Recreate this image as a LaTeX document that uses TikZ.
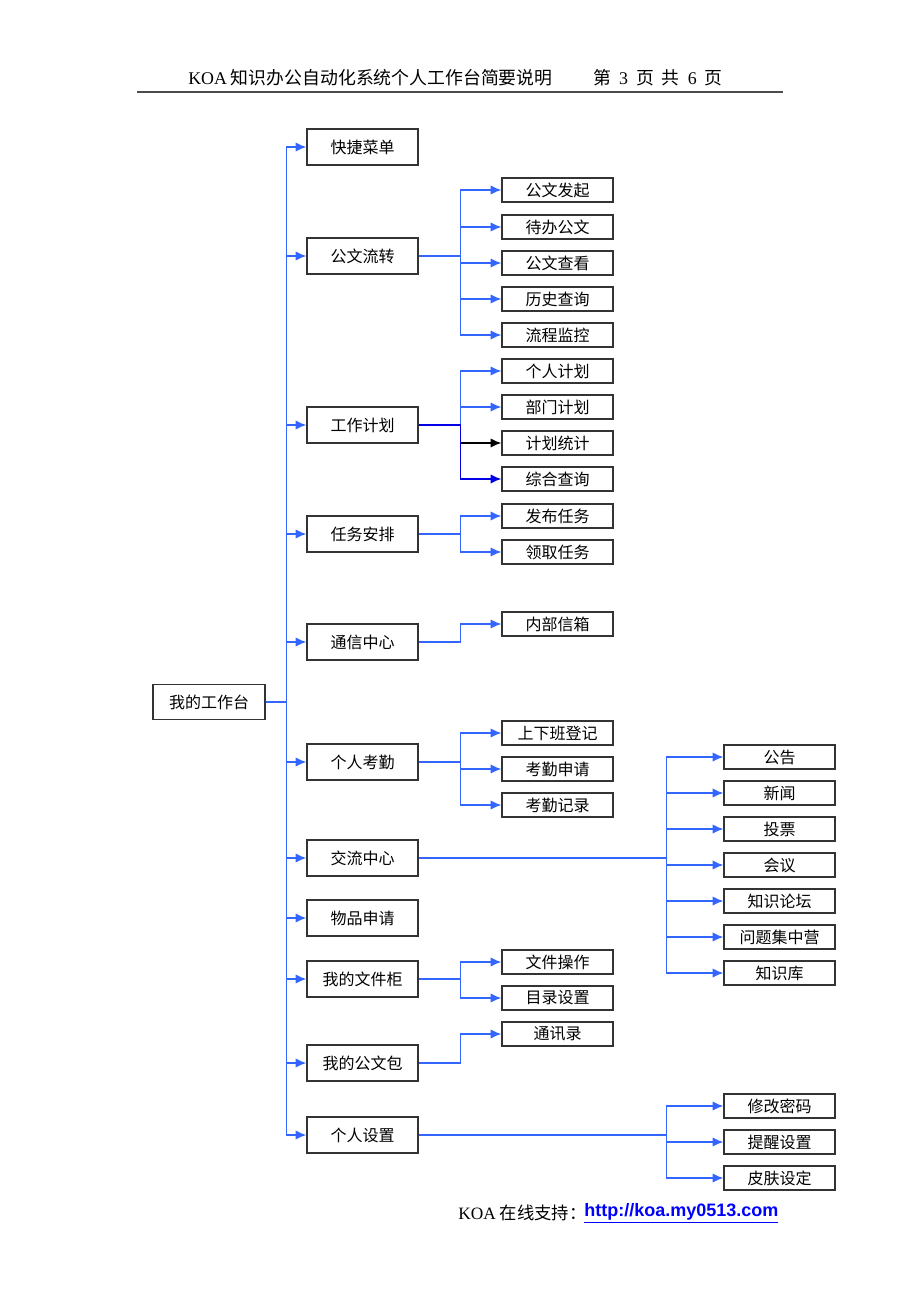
\documentclass[tikz,border=0pt]{standalone}
\usepackage{fontspec}
\setmainfont{Liberation Serif}
\newfontfamily\cjk{Noto Sans CJK SC}
\newfontfamily\linkfont{Liberation Sans}
\usepackage{tikz}
\usetikzlibrary{arrows.meta}
\definecolor{linkblue}{RGB}{51,102,255}
\definecolor{deepblue}{RGB}{0,0,230}

\begin{document}
\begin{tikzpicture}[x=0.75pt, y=-0.75pt,
	mainbox/.style={font=\cjk\fontsize{12}{14}\selectfont, draw=black!80, line width=0.9pt, minimum width=83.25pt, minimum height=27pt, inner sep=0, align=center},
	subbox/.style={mainbox, minimum height=18pt},
	link/.style={-{Latex[length=8pt,width=7pt]}, draw=linkblue, line width=1.3pt}
]
\useasboundingbox (0,0) rectangle (920,1302);

% header
\node[font=\cjk\fontsize{13.4}{16}\selectfont, anchor=west, inner sep=0] (title) at (188,78) {{\rmfamily KOA} 知识办公自动化系统个人工作台简要说明};
\node[font=\cjk\fontsize{13.4}{16}\selectfont, anchor=west, inner sep=0] (page) at (593,78) {第\ \ {\rmfamily 3}\ \ 页\ \ 共\ \ {\rmfamily 6}\ \ 页};
\draw[line width=1.5pt, black!70] (137,92) -- (783,92);

% root and first level
\node[mainbox, minimum width=84pt, minimum height=26.25pt] (root) at (209,702) {我的工作台};

\node[mainbox] (ksm)  at (362.5,147)  {快捷菜单};
\node[mainbox] (gwlz) at (362.5,256)  {公文流转};
\node[mainbox] (gzjh) at (362.5,425)  {工作计划};
\node[mainbox] (rwap) at (362.5,534)  {任务安排};
\node[mainbox] (txzx) at (362.5,642)  {通信中心};
\node[mainbox] (grkq) at (362.5,762)  {个人考勤};
\node[mainbox] (jlzx) at (362.5,858)  {交流中心};
\node[mainbox] (wpsq) at (362.5,918)  {物品申请};
\node[mainbox] (wjg)  at (362.5,979)  {我的文件柜};
\node[mainbox] (gwb)  at (362.5,1063) {我的公文包};
\node[mainbox] (grsz) at (362.5,1135) {个人设置};

\draw[link] (root.east) -- ++(21,0) |- (ksm.west);
\draw[link] (root.east) -- ++(21,0) |- (gwlz.west);
\draw[link] (root.east) -- ++(21,0) |- (gzjh.west);
\draw[link] (root.east) -- ++(21,0) |- (rwap.west);
\draw[link] (root.east) -- ++(21,0) |- (txzx.west);
\draw[link] (root.east) -- ++(21,0) |- (grkq.west);
\draw[link] (root.east) -- ++(21,0) |- (jlzx.west);
\draw[link] (root.east) -- ++(21,0) |- (wpsq.west);
\draw[link] (root.east) -- ++(21,0) |- (wjg.west);
\draw[link] (root.east) -- ++(21,0) |- (gwb.west);
\draw[link] (root.east) -- ++(21,0) |- (grsz.west);

% second level
\node[subbox] (gwlz1) at (557.5,190) {公文发起};
\node[subbox] (gwlz2) at (557.5,227) {待办公文};
\node[subbox] (gwlz3) at (557.5,263) {公文查看};
\node[subbox] (gwlz4) at (557.5,299) {历史查询};
\node[subbox] (gwlz5) at (557.5,335) {流程监控};

\node[subbox] (gzjh1) at (557.5,371) {个人计划};
\node[subbox] (gzjh2) at (557.5,407) {部门计划};
\node[subbox] (gzjh3) at (557.5,443) {计划统计};
\node[subbox] (gzjh4) at (557.5,479) {综合查询};

\node[subbox] (rwap1) at (557.5,516) {发布任务};
\node[subbox] (rwap2) at (557.5,552) {领取任务};

\node[subbox] (txzx1) at (557.5,624) {内部信箱};

\node[subbox] (grkq1) at (557.5,733) {上下班登记};
\node[subbox] (grkq2) at (557.5,769) {考勤申请};
\node[subbox] (grkq3) at (557.5,805) {考勤记录};

\node[subbox] (wjg1) at (557.5,962) {文件操作};
\node[subbox] (wjg2) at (557.5,998) {目录设置};

\node[subbox] (gwb1) at (557.5,1034) {通讯录};

\draw[link] (gwlz.east) -- ++(42,0) |- (gwlz1.west);
\draw[link] (gwlz.east) -- ++(42,0) |- (gwlz2.west);
\draw[link] (gwlz.east) -- ++(42,0) |- (gwlz3.west);
\draw[link] (gwlz.east) -- ++(42,0) |- (gwlz4.west);
\draw[link] (gwlz.east) -- ++(42,0) |- (gwlz5.west);

\draw[link] (gzjh.east) -- ++(42,0) |- (gzjh1.west);
\draw[link] (gzjh.east) -- ++(42,0) |- (gzjh2.west);
\draw[link, draw=black] (gzjh.east) -- ++(42,0) |- (gzjh3.west);
\draw[link, draw=deepblue] (gzjh.east) -- ++(42,0) |- (gzjh4.west);

\draw[link] (rwap.east) -- ++(42,0) |- (rwap1.west);
\draw[link] (rwap.east) -- ++(42,0) |- (rwap2.west);

\draw[link] (txzx.east) -- ++(42,0) |- (txzx1.west);

\draw[link] (grkq.east) -- ++(42,0) |- (grkq1.west);
\draw[link] (grkq.east) -- ++(42,0) |- (grkq2.west);
\draw[link] (grkq.east) -- ++(42,0) |- (grkq3.west);

\draw[link] (wjg.east) -- ++(42,0) |- (wjg1.west);
\draw[link] (wjg.east) -- ++(42,0) |- (wjg2.west);

\draw[link] (gwb.east) -- ++(42,0) |- (gwb1.west);

% third column
\node[subbox] (jlzx1) at (779.5,757) {公告};
\node[subbox] (jlzx2) at (779.5,793) {新闻};
\node[subbox] (jlzx3) at (779.5,829) {投票};
\node[subbox] (jlzx4) at (779.5,865) {会议};
\node[subbox] (jlzx5) at (779.5,901) {知识论坛};
\node[subbox] (jlzx6) at (779.5,937) {问题集中营};
\node[subbox] (jlzx7) at (779.5,973) {知识库};

\node[subbox] (grsz1) at (779.5,1106) {修改密码};
\node[subbox] (grsz2) at (779.5,1142) {提醒设置};
\node[subbox] (grsz3) at (779.5,1178) {皮肤设定};

\draw[link] (jlzx.east) -- ++(248,0) |- (jlzx1.west);
\draw[link] (jlzx.east) -- ++(248,0) |- (jlzx2.west);
\draw[link] (jlzx.east) -- ++(248,0) |- (jlzx3.west);
\draw[link] (jlzx.east) -- ++(248,0) |- (jlzx4.west);
\draw[link] (jlzx.east) -- ++(248,0) |- (jlzx5.west);
\draw[link] (jlzx.east) -- ++(248,0) |- (jlzx6.west);
\draw[link] (jlzx.east) -- ++(248,0) |- (jlzx7.west);

\draw[link] (grsz.east) -- ++(248,0) |- (grsz1.west);
\draw[link] (grsz.east) -- ++(248,0) |- (grsz2.west);
\draw[link] (grsz.east) -- ++(248,0) |- (grsz3.west);

% footer
\node[font=\cjk\fontsize{13}{15}\selectfont, anchor=west, inner sep=0] (support) at (458,1213) {{\rmfamily KOA} 在线支持：};
\node[font=\linkfont\bfseries\fontsize{13.5}{15}\selectfont, text=blue, anchor=west, inner sep=0] (url) at (584,1213) {\underline{http://koa.my0513.com}};
\end{tikzpicture}
\end{document}
